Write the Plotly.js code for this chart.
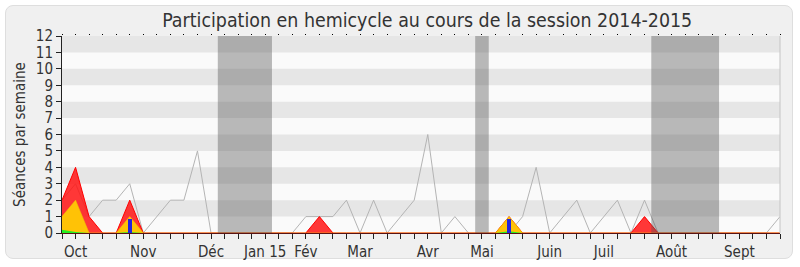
<!DOCTYPE html>
<html>
<head>
<meta charset="utf-8">
<script src="https://cdn.plot.ly/plotly-3.0.1.min.js"></script>
<style>
  html, body { margin: 0; padding: 0; background: #ffffff; }
  #cadre {
    position: absolute; left: 5px; top: 5px; width: 786px; height: 252px;
    background: #f0f0f0; border: 1px solid #dedede; border-radius: 8px;
  }
  #graph { position: absolute; left: 0; top: 0; width: 800px; height: 267px; }
</style>
</head>
<body>
<div id="cadre"></div>
<div id="graph"></div>
<script>
// Semaines de la session (index 0 = première semaine)
const semaines = [0,1,2,3,4,5,6,7,8,9,10,11,12,13,14,15,16,17,18,19,20,21,22,23,24,25,26,
  27,28,29,30,31,32,33,34,35,36,37,38,39,40,41,42,43,44,45,46,47,48,49,50,51,52,53];

// Séances en hémicycle (ligne grise)
const seancesHemicycle = [2,3,1,2,2,3,0,1,2,2,5,0,0,0,0,0,0,0,1,1,1,2,0,2,0,1,2,6,0,1,0,0,0,0,1,4,
  0,1,2,0,1,2,0,2,0,0,0,0,0,0,0,0,0,1];

// Présences détectées (rouge)
const presences = [2,4,1,0,0,2,0,0,0,0,0,0,0,0,0,0,0,0,0,1,0,0,0,0,0,0,0,0,0,0,0,0,0,1,0,0,
  0,0,0,0,0,0,0,1,0,0,0,0,0,0,0,0,0,0];

// Interventions (jaune)
const interventions = [1,2,0,0,0,1,0,0,0,0,0,0,0,0,0,0,0,0,0,0,0,0,0,0,0,0,0,0,0,0,0,0,0,1,0,0,
  0,0,0,0,0,0,0,0,0,0,0,0,0,0,0,0,0,0];

// Participations en commission (vert)
const commissions = [0.2,0.06,0,0,0,0.06,0,0,0,0,0,0,0,0,0,0,0,0,0,0,0,0,0,0,0,0,0,0,0,0,0,0,0,0.1,0,0,
  0,0,0,0,0,0,0,0,0,0,0,0,0,0,0,0,0,0];

// Questions orales (barres bleues)
const questionsSemaines = [5, 33];
const questions = [0.88, 0.85];

// Étiquettes des mois
const moisPos = [1, 6, 11, 15, 18, 22, 27, 31, 36, 40, 45, 50];
const moisLabels = ['Oct', 'Nov', 'Déc', 'Jan 15', 'Fév', 'Mar', 'Avr', 'Mai', 'Juin', 'Juil', 'Août', 'Sept'];

// Périodes de vacances parlementaires (début, fin en semaines)
const vacancesDebut = [11.5, 30.5, 43.5];
const vacancesFin = [15.5, 31.5, 48.5];

const police = 'DejaVu Sans Condensed, DejaVu Sans, sans-serif';

const traces = [
  {
    x: semaines, y: seancesHemicycle, type: 'scatter', mode: 'lines',
    line: { color: '#b4b4b4', width: 1 }, hoverinfo: 'skip', showlegend: false
  },
  {
    x: semaines, y: presences, type: 'scatter', mode: 'lines', fill: 'tozeroy',
    fillcolor: 'rgba(255,20,20,0.85)', line: { color: '#ff0000', width: 1 },
    hoverinfo: 'skip', showlegend: false
  },
  {
    x: semaines, y: interventions, type: 'scatter', mode: 'lines', fill: 'tozeroy',
    fillcolor: 'rgba(255,214,0,0.88)', line: { color: 'rgba(240,200,0,0.6)', width: 1 },
    hoverinfo: 'skip', showlegend: false
  },
  {
    x: semaines, y: commissions, type: 'scatter', mode: 'lines', fill: 'tozeroy',
    fillcolor: '#22ee22', line: { color: '#22ee22', width: 0 },
    hoverinfo: 'skip', showlegend: false
  },
  {
    // barres placées sur un axe superposé pour passer au-dessus des aires
    x: questionsSemaines, y: questions, type: 'bar', width: 0.3, xaxis: 'x3',
    marker: { color: '#2424dd', line: { width: 0 } },
    hoverinfo: 'skip', showlegend: false
  },
  {
    x: [0], y: [0], xaxis: 'x2', type: 'scatter', mode: 'none',
    hoverinfo: 'skip', showlegend: false
  }
];

const shapes = [];
// bandes horizontales alternées
for (let k = 1; k < 12; k += 2) {
  shapes.push({
    type: 'rect', xref: 'paper', yref: 'y', x0: 0, x1: 1, y0: k, y1: k + 1,
    fillcolor: '#e6e6e6', line: { width: 0 }, layer: 'below'
  });
}
// vacances parlementaires
for (let i = 0; i < vacancesDebut.length; i++) {
  shapes.push({
    type: 'rect', xref: 'x', yref: 'y', x0: vacancesDebut[i], x1: vacancesFin[i], y0: 0, y1: 12,
    fillcolor: 'rgba(85,85,85,0.4)', line: { width: 0 }, layer: 'above'
  });
}
// bord droit de la zone de tracé
shapes.push({
  type: 'line', xref: 'paper', yref: 'y', x0: 1, x1: 1, y0: 0, y1: 12,
  line: { color: '#c4c4c4', width: 1 }, layer: 'above'
});

const layout = {
  width: 800, height: 267,
  margin: { l: 62, r: 20, t: 36, b: 34 },
  paper_bgcolor: 'rgba(0,0,0,0)',
  plot_bgcolor: '#fafafa',
  font: { family: police, color: '#333333', size: 14 },
  title: {
    text: 'Participation en hemicycle au cours de la session 2014-2015',
    font: { family: police, size: 19.4, color: '#333333' },
    x: 0.534, xanchor: 'center', xref: 'container',
    y: 0.925, yanchor: 'middle', yref: 'container'
  },
  bargap: 0,
  xaxis: {
    range: [0, 53], showgrid: false, zeroline: false,
    showline: true, linecolor: '#5a1212', linewidth: 1,
    tickmode: 'array', tickvals: moisPos, ticktext: moisLabels,
    ticks: 'outside', ticklen: 5, tickwidth: 1, tickcolor: '#222222',
    minor: { tickmode: 'linear', tick0: 0, dtick: 1, ticks: 'outside', ticklen: 5, tickwidth: 1, tickcolor: '#222222', showgrid: false },
    tickfont: { size: 15, color: '#333333' },
    fixedrange: true
  },
  xaxis2: {
    overlaying: 'x', side: 'top', anchor: 'y', range: [0, 53],
    showgrid: false, zeroline: false, showline: false, showticklabels: false,
    tickmode: 'linear', tick0: 0, dtick: 1,
    ticks: 'outside', ticklen: 1, tickwidth: 1, tickcolor: '#000000'
  },
  xaxis3: {
    overlaying: 'x', anchor: 'y', range: [0, 53], visible: false,
    showgrid: false, zeroline: false
  },
  yaxis: {
    range: [0, 12], showgrid: false, zeroline: false,
    showline: true, linecolor: '#222222', linewidth: 1,
    tickmode: 'linear', tick0: 0, dtick: 1,
    ticks: 'outside', ticklen: 5, tickwidth: 1, tickcolor: '#222222',
    tickfont: { size: 15, color: '#333333' },
    title: { text: 'Séances par semaine', font: { size: 15, color: '#333333' }, standoff: 6 },
    fixedrange: true
  },
  shapes: shapes
};

Plotly.newPlot('graph', traces, layout, { staticPlot: true, displayModeBar: false });
</script>
</body>
</html>
